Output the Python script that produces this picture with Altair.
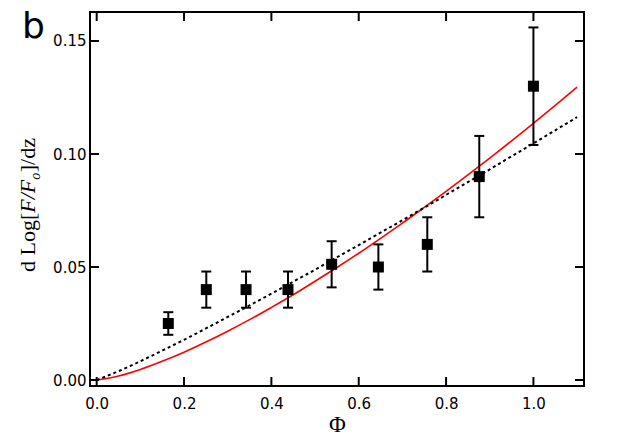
import altair as alt
import pandas as pd

# ---- data ----
phi = [0.164, 0.251, 0.342, 0.438, 0.538, 0.645, 0.757, 0.876, 1.0]
slope = [0.025, 0.040, 0.040, 0.040, 0.0512, 0.050, 0.060, 0.090, 0.130]
err = [0.005, 0.008, 0.008, 0.008, 0.0102, 0.010, 0.012, 0.018, 0.026]

curve_x = [0.0, 0.05, 0.10, 0.15, 0.20, 0.25, 0.30, 0.35, 0.40, 0.45, 0.50, 0.55,
           0.60, 0.65, 0.70, 0.75, 0.80, 0.85, 0.90, 0.95, 1.00, 1.05, 1.10]
red_fit = [0.0, 0.0018, 0.0047, 0.0083, 0.0123, 0.0168, 0.0216, 0.0267, 0.0321, 0.0377,
           0.0437, 0.0498, 0.0561, 0.0627, 0.0694, 0.0764, 0.0835, 0.0908, 0.0982,
           0.1058, 0.1136, 0.1215, 0.1296]
dotted_fit = [0.0, 0.0039, 0.0083, 0.0130, 0.0178, 0.0228, 0.0279, 0.0330, 0.0382,
              0.0435, 0.0488, 0.0543, 0.0597, 0.0652, 0.0707, 0.0763, 0.0819, 0.0876,
              0.0932, 0.0990, 0.1047, 0.1105, 0.1163]

x_ticks = [0.0, 0.2, 0.4, 0.6, 0.8, 1.0]
y_ticks = [0.0, 0.05, 0.10, 0.15]

panel_label = ["b"]
y_title_parts = ["d Log[", "F/F", "o", "]/dz"]

# ---- tables ----
pts = pd.DataFrame({"phi": phi, "slope": slope, "err": err})
curves = pd.DataFrame({"x": curve_x, "red": red_fit, "dot": dotted_fit})
xt = pd.DataFrame({"t": x_ticks})
yt = pd.DataFrame({"t": y_ticks})

W, H = 494, 374
TICK = 9

xscale = alt.Scale(domain=[-0.0153, 1.1158], nice=False, zero=False)
yscale = alt.Scale(domain=[-0.00265, 0.16283], nice=False, zero=False)

x_axis = alt.Axis(values=x_ticks, format=".1f", ticks=False, tickSize=0, domain=False,
                  grid=False, labelFont="DejaVu Sans", labelFontSize=15, labelColor="black",
                  labelPadding=10, title="Φ", titleFont="Liberation Serif", titleFontSize=23,
                  titleFontWeight="normal", titleColor="black", titleBaseline="alphabetic",
                  titleY=45)
y_axis = alt.Axis(values=y_ticks, format=".2f", ticks=False, tickSize=0, domain=False,
                  grid=False, labelFont="DejaVu Sans", labelFontSize=15, labelColor="black",
                  labelPadding=4, title=None)


def X(field):
    return alt.X(field, scale=xscale, axis=x_axis)


def Y(field):
    return alt.Y(field, scale=yscale, axis=y_axis)


red_line = alt.Chart(curves).mark_line(color="#ff0000", strokeWidth=1.6, interpolate="monotone").encode(
    x=X("x:Q"), y=Y("red:Q"))
dot_line = alt.Chart(curves).mark_line(color="black", strokeWidth=2, strokeDash=[3, 3],
                                       interpolate="monotone").encode(
    x=X("x:Q"), y=Y("dot:Q"))

base_pts = alt.Chart(pts).transform_calculate(
    lo="datum.slope - datum.err", hi="datum.slope + datum.err"
)
bars = base_pts.mark_rule(color="black", strokeWidth=2).encode(
    x=X("phi:Q"), y=Y("lo:Q"), y2="hi:Q")
cap_lo = base_pts.mark_tick(color="black", orient="horizontal", size=10, thickness=2, opacity=1).encode(
    x=X("phi:Q"), y=Y("lo:Q"))
cap_hi = base_pts.mark_tick(color="black", orient="horizontal", size=10, thickness=2, opacity=1).encode(
    x=X("phi:Q"), y=Y("hi:Q"))
squares = base_pts.mark_square(color="black", size=121, opacity=1, filled=True).encode(
    x=X("phi:Q"), y=Y("slope:Q"))

tick_bottom = alt.Chart(xt).mark_rule(color="black", strokeWidth=2).encode(
    x=X("t:Q"), y=alt.value(H), y2=alt.value(H - TICK))
tick_top = alt.Chart(xt).mark_rule(color="black", strokeWidth=2).encode(
    x=X("t:Q"), y=alt.value(0), y2=alt.value(TICK))
tick_left = alt.Chart(yt).mark_rule(color="black", strokeWidth=2).encode(
    y=Y("t:Q"), x=alt.value(0), x2=alt.value(TICK))
tick_right = alt.Chart(yt).mark_rule(color="black", strokeWidth=2).encode(
    y=Y("t:Q"), x=alt.value(W), x2=alt.value(W - TICK))

label = alt.Chart(pd.DataFrame({"lab": panel_label})).mark_text(
    font="DejaVu Sans", fontSize=36, align="left", baseline="alphabetic", color="black"
).encode(text="lab:N", x=alt.value(-68), y=alt.value(26))

# y-axis title built from pieces (upright / italic / subscript), rotated
TF = 22
title_layers = []
specs = [
    # text, style, size, x (baseline), y (start)
    (y_title_parts[0], "normal", TF, -55, 260),
    (y_title_parts[1], "italic", TF, -55, 260 - 2.694 * TF),
    (y_title_parts[2], "italic", 14, -50, 260 - 2.694 * TF - 1.5 * TF),
    (y_title_parts[3], "normal", TF, -55, 260 - 2.694 * TF - 1.5 * TF - 7.5),
]
for txt, style, size, bx, by in specs:
    title_layers.append(
        alt.Chart(pd.DataFrame({"lab": [txt]})).mark_text(
            font="Liberation Serif", fontSize=size, fontStyle=style, angle=270,
            align="left", baseline="alphabetic", color="black"
        ).encode(text="lab:N", x=alt.value(bx), y=alt.value(by))
    )

chart = alt.layer(
    red_line, dot_line, bars, cap_lo, cap_hi, squares,
    tick_bottom, tick_top, tick_left, tick_right, label, *title_layers
).properties(
    width=W, height=H,
    autosize=alt.AutoSizeParams(type="none"),
    padding={"left": 82, "top": 4, "right": 20, "bottom": 52},
    background="white",
).configure_view(stroke="black", strokeWidth=2)

chart.save("out.html", embed_options={"renderer": "svg", "actions": False})
